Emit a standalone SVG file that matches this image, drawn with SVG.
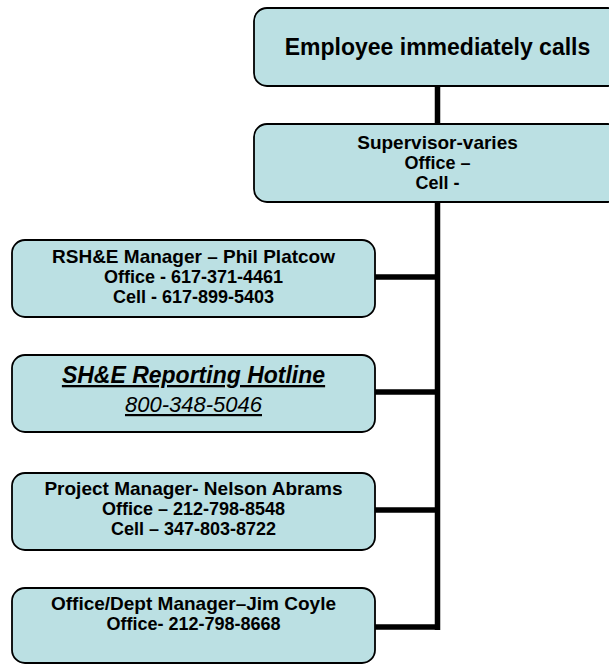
<svg xmlns="http://www.w3.org/2000/svg" width="609" height="665" viewBox="0 0 609 665">
<style>
.box{fill:#BBE0E3;stroke:#000;stroke-width:1.8}
.t{font-family:"Liberation Sans",Arial,sans-serif;font-weight:bold;text-anchor:middle;fill:#000}
.h{font-size:19px}
.s{font-size:18px}
.conn{stroke:#000;stroke-width:5.5;fill:none}
</style>
<rect width="609" height="665" fill="#fff"/>
<g id="connectors">
<line class="conn" x1="437.5" y1="86" x2="437.5" y2="630"/>
<line class="conn" x1="375" y1="277" x2="440" y2="277"/>
<line class="conn" x1="375" y1="392" x2="440" y2="392"/>
<line class="conn" x1="375" y1="510" x2="440" y2="510"/>
<line class="conn" x1="375" y1="627" x2="440" y2="627"/>
</g>
<g id="employee">
<rect class="box" x="254" y="8" width="367" height="78" rx="13"/>
<text class="t" x="437.5" y="55" font-size="23">Employee immediately calls</text>
</g>
<g id="supervisor">
<rect class="box" x="254" y="124" width="367" height="78" rx="13"/>
<text class="t h" x="437.5" y="149">Supervisor-varies</text>
<text class="t s" x="437.5" y="169">Office –</text>
<text class="t s" x="437.5" y="189">Cell -</text>
</g>
<g id="rshe">
<rect class="box" x="12" y="240" width="363" height="77" rx="13"/>
<text class="t h" x="193.5" y="263">RSH&amp;E Manager – Phil Platcow</text>
<text class="t s" x="193.5" y="283">Office - 617-371-4461</text>
<text class="t s" x="193.5" y="303">Cell - 617-899-5403</text>
</g>
<g id="hotline">
<rect class="box" x="12" y="355" width="363" height="77" rx="13"/>
<text class="t" x="193.5" y="383" font-size="23" font-style="italic" text-decoration="underline">SH&amp;E Reporting Hotline</text>
<text class="t" x="193.5" y="412" font-size="22" font-style="italic" font-weight="normal" style="font-weight:normal" text-decoration="underline">800-348-5046</text>
</g>
<g id="project">
<rect class="box" x="12" y="473" width="363" height="77" rx="13"/>
<text class="t h" x="193.5" y="495">Project Manager- Nelson Abrams</text>
<text class="t s" x="193.5" y="515">Office – 212-798-8548</text>
<text class="t s" x="193.5" y="535">Cell – 347-803-8722</text>
</g>
<g id="office">
<rect class="box" x="12" y="588" width="363" height="75" rx="13"/>
<text class="t h" x="193.5" y="610">Office/Dept Manager–Jim Coyle</text>
<text class="t s" x="193.5" y="630">Office- 212-798-8668</text>
</g>
</svg>
